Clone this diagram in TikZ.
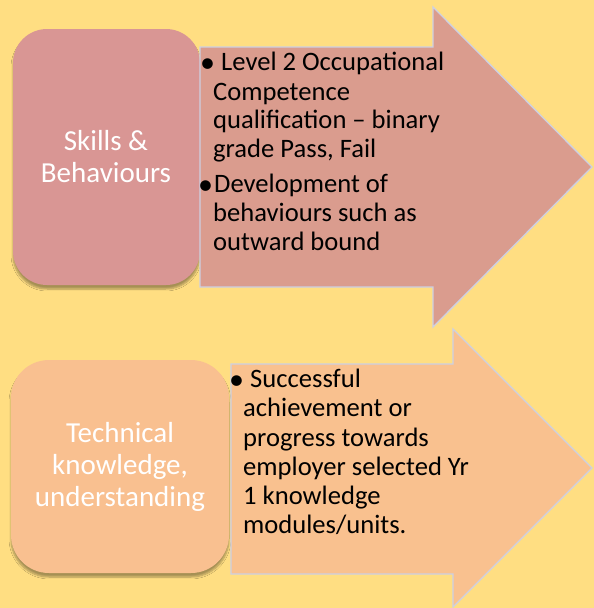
\documentclass[tikz,border=0pt]{standalone}
\usepackage{fontspec}
\setmainfont{Carlito}
\usetikzlibrary{shadows.blur}
\definecolor{bg}{HTML}{FFDE82}
\definecolor{rosebox}{HTML}{D99694}
\definecolor{rosearrow}{HTML}{DA9C8E}
\definecolor{peachbox}{HTML}{F9C090}
\definecolor{peacharrow}{HTML}{F9C18F}
\definecolor{edgeline}{HTML}{CDD0E2}
\begin{document}
\begin{tikzpicture}[x=1pt,y=-1pt,
  boxstyle/.style={rectangle, rounded corners=34pt, inner sep=0pt,
    blur shadow={shadow xshift=0pt, shadow yshift=-4pt, shadow opacity=35, shadow blur steps=6}},
  arrowstyle/.style={draw=edgeline, line width=1.3pt, line join=miter},
  boxtext/.style={text=white, font=\fontsize{29}{32}\selectfont, anchor=base, inner sep=0pt},
  listtext/.style={text=black, font=\fontsize{26.6}{29}\selectfont, anchor=base west, inner sep=0pt},
  bullettext/.style={text=black, font=\fontsize{30}{30}\selectfont, anchor=base west, inner sep=0pt},
]
\fill[bg] (0,0) rectangle (594,608);
\useasboundingbox (0,0) rectangle (594,608);

% top row
\node[boxstyle, fill=rosebox, minimum width=187pt, minimum height=256pt] (sb) at (106.5,157) {};
\path[arrowstyle, fill=rosearrow] (200,47) -- (433,47) -- (433,7) -- (592,167) -- (433,327) -- (433,287) -- (200,287) -- cycle;
\node[boxtext] (sb1) at (106,150) {Skills \&};
\node[boxtext] (sb2) at (106,182) {Behaviours};

\node[bullettext] (b1) at (200,72) {•};
\node[listtext] (t1) at (221,70) {Level 2 Occupational};
\node[listtext] (t2) at (213,100) {Competence};
\node[listtext] (t3) at (213,128) {qualification – binary};
\node[listtext] (t4) at (213,157) {grade Pass, Fail};
\node[bullettext] (b2) at (198,194) {•};
\node[listtext] (t5) at (214,192) {Development of};
\node[listtext] (t6) at (213,221) {behaviours such as};
\node[listtext] (t7) at (213,250) {outward bound};

% bottom row
\node[boxstyle, rounded corners=38pt, fill=peachbox, minimum width=218pt, minimum height=213pt] (tk) at (120,466.5) {};
\path[arrowstyle, fill=peacharrow] (231,364) -- (453,364) -- (453,329) -- (592,468) -- (453,607) -- (453,574) -- (231,574) -- cycle;
\node[boxtext] (tk1) at (120,442) {Technical};
\node[boxtext] (tk2) at (120,474) {knowledge,};
\node[boxtext] (tk3) at (120,506) {understanding};

\node[bullettext] (b3) at (229,389) {•};
\node[listtext] (u1) at (250,387) {Successful};
\node[listtext] (u2) at (243,416) {achievement or};
\node[listtext] (u3) at (243,446) {progress towards};
\node[listtext] (u4) at (243,475) {employer selected Yr};
\node[listtext] (u5) at (243,504) {1 knowledge};
\node[listtext] (u6) at (243,533) {modules/units.};
\end{tikzpicture}
\end{document}
